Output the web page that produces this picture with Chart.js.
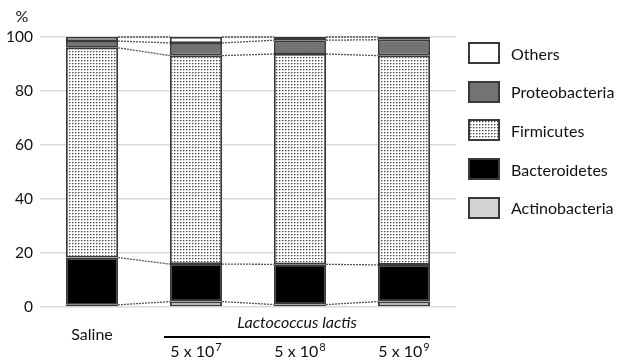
<!DOCTYPE html>
<html>
<head>
<meta charset="utf-8">
<script src="https://cdn.jsdelivr.net/npm/chart.js@4/dist/chart.umd.min.js"></script>
<style>
  html, body { margin: 0; padding: 0; background: #fff; overflow: hidden; }
  #wrap { position: relative; width: 617px; height: 360px; overflow: hidden; }
  #legend { position: absolute; left: 468px; top: 42px; font-family: Lato, "Open Sans", sans-serif; font-size: 16px; color: #111; white-space: nowrap; }
  .item { display: flex; align-items: center; height: 22px; margin-bottom: 16.7px; }
  .sw { width: 28px; height: 18px; border: 2px solid #3a3a3a; margin-right: 11px; flex: none; }
</style>
</head>
<body>
<div id="wrap">
  <canvas id="c" width="617" height="360"></canvas>
  <div id="legend"></div>
</div>
<script>
// ---- data (relative abundance, %) ----
var GROUPS = ["Saline", "5 x 10", "5 x 10", "5 x 10"];
var EXPONENTS = ["", "7", "8", "9"];
var GROUP_TITLE = "Lactococcus lactis";
var SERIES = ["Actinobacteria", "Bacteroidetes", "Firmicutes", "Proteobacteria", "Others"];
var ACTINO = [0.8, 2.0, 0.9, 2.0];
var BACTERO = [17.5, 13.9, 14.9, 13.6];
var FIRMI = [77.7, 77.2, 77.9, 77.5];
var PROTEO = [2.5, 4.7, 5.1, 5.9];
var OTHERS = [1.5, 2.2, 1.2, 1.0];
var Y_MIN = 0, Y_MAX = 100, Y_STEP = 20;
var Y_UNIT = "%";

var FONT = "Lato, 'Open Sans', sans-serif";
var EDGE = "#3a3a3a";

// stipple pattern for Firmicutes
var pc = document.createElement("canvas");
pc.width = 3; pc.height = 3;
var px = pc.getContext("2d");
px.fillStyle = "#fff"; px.fillRect(0, 0, 3, 3);
px.fillStyle = "#4a4a4a"; px.fillRect(0, 0, 1, 1);
px.fillStyle = "#a8a8a8"; px.fillRect(1, 0, 1, 1);
px.fillStyle = "#c4c4c4"; px.fillRect(0, 1, 1, 1);

var ctx = document.getElementById("c").getContext("2d");
var stipple = ctx.createPattern(pc, "repeat");

var FILLS = ["#d3d3d3", "#000000", stipple, "#737373", "#ffffff"];
var CSS_FILLS = ["#d3d3d3", "#000000", "url(" + pc.toDataURL() + ")", "#737373", "#ffffff"];
var VALUES = [ACTINO, BACTERO, FIRMI, PROTEO, OTHERS];

var datasets = SERIES.map(function (name, i) {
  return { label: name, data: VALUES[i], backgroundColor: FILLS[i], borderColor: EDGE,
    borderWidth: 1.8, borderSkipped: false, barPercentage: 0.5, categoryPercentage: 1 };
});

// dotted lines joining the same boundary across neighbouring bars
var connectors = {
  id: "connectors",
  beforeDatasetsDraw: function (chart) {
    var c = chart.ctx;
    c.save();
    c.strokeStyle = "#555"; c.lineWidth = 1.3; c.setLineDash([2, 1]);
    chart.data.datasets.forEach(function (ds, di) {
      var els = chart.getDatasetMeta(di).data;
      for (var k = 0; k < els.length - 1; k++) {
        var a = els[k].getProps(["x", "y", "width"], true);
        var b = els[k + 1].getProps(["x", "y", "width"], true);
        c.beginPath();
        c.moveTo(a.x + a.width / 2, a.y);
        c.lineTo(b.x - b.width / 2, b.y);
        c.stroke();
      }
    });
    c.restore();
  }
};

// category labels, the group bracket and the unit label
var labels = {
  id: "labels",
  afterDraw: function (chart) {
    var c = chart.ctx, xs = chart.scales.x, area = chart.chartArea;
    var els = chart.getDatasetMeta(0).data;
    c.save();
    c.fillStyle = "#111";
    c.textBaseline = "middle";
    c.font = "16px " + FONT;
    c.textAlign = "center";
    c.fillText(Y_UNIT, 22, 17);

    GROUPS.forEach(function (g, i) {
      var x = xs.getPixelForValue(i);
      if (!EXPONENTS[i]) {
        c.font = "16px " + FONT;
        c.textAlign = "center";
        c.fillText(g, x, area.bottom + 28);
        return;
      }
      c.font = "16px " + FONT;
      var w1 = c.measureText(g).width;
      c.font = "11px " + FONT;
      var w2 = c.measureText(EXPONENTS[i]).width;
      var x0 = x - (w1 + w2 + 1) / 2;
      c.textAlign = "left";
      c.font = "16px " + FONT;
      c.fillText(g, x0, area.bottom + 45);
      c.font = "11px " + FONT;
      c.fillText(EXPONENTS[i], x0 + w1 + 1, area.bottom + 40);
    });

    var first = els[1].getProps(["x", "width"], true);
    var last = els[els.length - 1].getProps(["x", "width"], true);
    var left = first.x - first.width / 2 - 6, right = last.x + last.width / 2;
    c.strokeStyle = "#000"; c.lineWidth = 2;
    c.beginPath(); c.moveTo(left, area.bottom + 30); c.lineTo(right, area.bottom + 30); c.stroke();
    c.font = "italic 16px " + FONT;
    c.textAlign = "center";
    c.fillText(GROUP_TITLE, (first.x + last.x) / 2 - 3, area.bottom + 16);
    c.restore();
  }
};

new Chart(ctx, {
  type: "bar",
  data: { labels: GROUPS, datasets: datasets },
  options: {
    responsive: false, animation: false, devicePixelRatio: 1,
    layout: { padding: { top: 37, right: 161, bottom: 53, left: 0 } },
    plugins: { legend: { display: false }, tooltip: { enabled: false } },
    scales: {
      x: { stacked: true, display: false, offset: true },
      y: {
        stacked: true, min: Y_MIN, max: Y_MAX,
        border: { display: false },
        grid: { color: "#dadada", lineWidth: 1.5, drawTicks: false },
        ticks: { stepSize: Y_STEP, padding: 7, color: "#111", font: { family: FONT, size: 15.5 } },
        afterFit: function (s) { s.width = 40; }
      }
    }
  },
  plugins: [connectors, labels]
});

// legend, top to bottom in reverse stacking order
var lg = document.getElementById("legend");
SERIES.slice().reverse().forEach(function (name) {
  var i = SERIES.indexOf(name);
  var row = document.createElement("div"); row.className = "item";
  var sw = document.createElement("span"); sw.className = "sw";
  sw.style.background = CSS_FILLS[i];
  var t = document.createElement("span"); t.textContent = name;
  row.appendChild(sw); row.appendChild(t); lg.appendChild(row);
});
</script>
</body>
</html>
